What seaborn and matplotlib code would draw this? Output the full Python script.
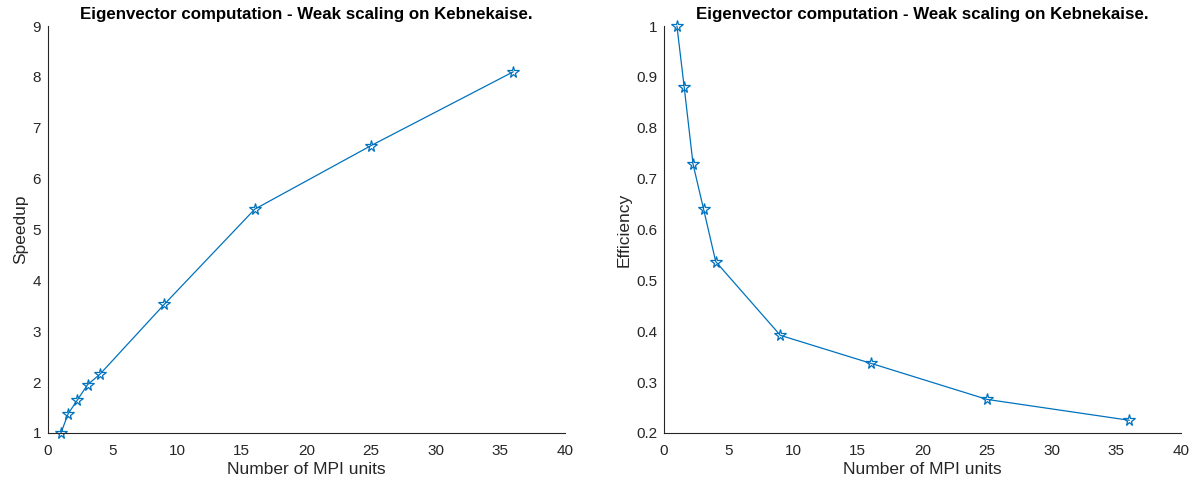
"""
Weak scaling of the eigenvector computation on Kebnekaise: speedup and efficiency.
"""

import pandas as pd
import seaborn as sns
import matplotlib
matplotlib.use('Agg')
import matplotlib.pyplot as plt

# Data
mpi_units = [1, 1.5625, 2.25, 3.0625, 4, 9, 16, 25, 36]
speedup = [1.0, 1.38, 1.64, 1.95, 2.15, 3.53, 5.40, 6.65, 8.10]
efficiency = [1.0, 0.88, 0.728, 0.64, 0.537, 0.392, 0.337, 0.266, 0.225]

title = 'Eigenvector computation - Weak scaling on Kebnekaise.'
line_color = '#0072BD'
text_color = '#262626'

sns.set_style('white')
plt.rcParams['font.family'] = ['Liberation Sans', 'DejaVu Sans']

df = pd.DataFrame({'units': mpi_units, 'speedup': speedup, 'efficiency': efficiency})

fig = plt.figure(figsize=(11.99, 4.88), dpi=100)
ax1 = fig.add_axes([48 / 1199, 55 / 488, 517 / 1199, 407 / 488])
ax2 = fig.add_axes([664 / 1199, 55 / 488, 517 / 1199, 407 / 488])


def style_axis(ax, ylim, yticks, ylabel):
    """MATLAB-like look: only left/bottom axes, inward ticks"""
    ax.set_xlim(0, 40)
    ax.set_ylim(*ylim)
    ax.set_xticks(range(0, 41, 5))
    ax.set_yticks(yticks)
    ax.set_yticklabels([f'{v:g}' for v in yticks])
    for side in ['top', 'right']:
        ax.spines[side].set_visible(False)
    for side in ['left', 'bottom']:
        ax.spines[side].set_color(text_color)
        ax.spines[side].set_linewidth(0.8)
    ax.tick_params(direction='in', length=5, width=0.8, colors=text_color,
                   labelsize=11, labelcolor=text_color)
    ax.tick_params(axis='x', pad=8)
    ax.tick_params(axis='y', pad=5)
    ax.set_xlabel('Number of MPI units', fontsize=12.5, color=text_color, labelpad=3)
    ax.set_ylabel(ylabel, fontsize=12.5, color=text_color, labelpad=3)
    ax.set_title(title, fontsize=12.2, fontweight='bold', color='black', pad=5)
    ax.grid(False)


# Left panel: speedup
sns.lineplot(data=df, x='units', y='speedup', ax=ax1, color=line_color, linewidth=0.9,
             marker='*', markersize=8.5, markerfacecolor='none',
             markeredgecolor=line_color, markeredgewidth=0.9)
style_axis(ax1, (1, 9), list(range(1, 10)), 'Speedup')

# Right panel: efficiency
sns.lineplot(data=df, x='units', y='efficiency', ax=ax2, color=line_color, linewidth=0.9,
             marker='*', markersize=8.5, markerfacecolor='none',
             markeredgecolor=line_color, markeredgewidth=0.9)
eff_ticks = [0.2, 0.3, 0.4, 0.5, 0.6, 0.7, 0.8, 0.9, 1.0]
style_axis(ax2, (0.2, 1.0), eff_ticks, 'Efficiency')

for ax in (ax1, ax2):
    for line in ax.lines:
        line.set_clip_on(False)

fig.savefig('out.png', dpi=100)
